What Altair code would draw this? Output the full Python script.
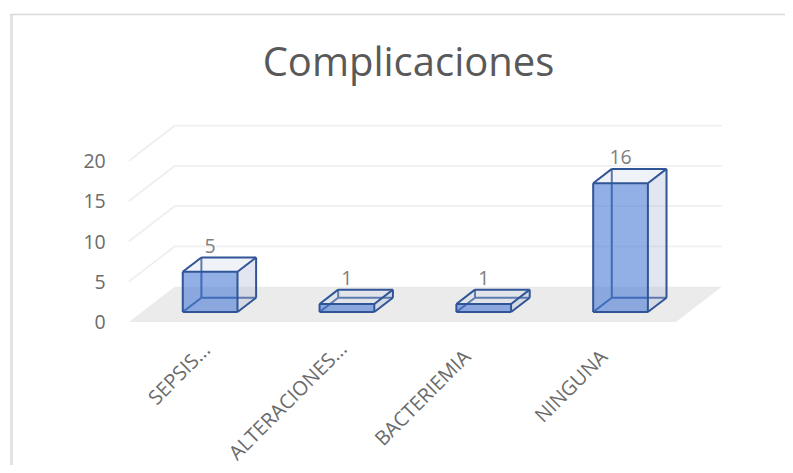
import altair as alt
import pandas as pd

TITLE = "Complicaciones"
categories = ["SEPSIS...", "ALTERACIONES...", "BACTERIEMIA", "NINGUNA"]
values = [5, 1, 1, 16]
ticks = [0, 5, 10, 15, 20]

# projection of the pseudo-3D box (pixels per unit of the scales)
STEP, UNIT = 136.8, 8.05
DEPTH_DX, DEPTH_DY = 46.0, 35.3
ORIGIN_X, ORIGIN_Y = 128.7, 322.0
FRONT, BACK = 0.2833, 0.688
HALF = 0.2
LABEL_SHIFT_PX = [-3, -3, -16, -16]  # end of rotated labels relative to bar centre
LABEL_END_Y = [347, 346, 354, 354]
W, H = 777, 457


def P(u, v, d):
    return u + d * DEPTH_DX / STEP, v + d * DEPTH_DY / UNIT


x_dom = [(8 - ORIGIN_X) / STEP - 0.5, (785 - ORIGIN_X) / STEP - 0.5]
y_dom = [(ORIGIN_Y - 465) / UNIT, (ORIGIN_Y - 8) / UNIT]
xs = alt.Scale(domain=x_dom, nice=False, zero=False)
ys = alt.Scale(domain=y_dom, nice=False, zero=False)
X = alt.X("x:Q", scale=xs, axis=None)
Y = alt.Y("y:Q", scale=ys, axis=None)

# floor
fa = P(-0.5, 0, 0)
fb = P(-0.5, 0, 1)
floor = pd.DataFrame(
    [
        {"y": fa[1], "x": fa[0], "x2": fa[0] + 4},
        {"y": fb[1], "x": fb[0], "x2": fb[0] + 4},
    ]
)
floor_l = (
    alt.Chart(floor)
    .mark_area(orient="horizontal", color="#ebebeb")
    .encode(y=Y, x=X, x2="x2:Q")
)

# gridlines
grid_rows = []
for t in ticks[1:]:
    for o, (u, d) in enumerate([(-0.5, 0), (-0.5, 1), (3.5, 1)]):
        px, py = P(u, t, d)
        grid_rows.append({"t": t, "o": o, "x": px, "y": py})
grid_l = (
    alt.Chart(pd.DataFrame(grid_rows))
    .mark_line(color="#efefef", strokeWidth=1.8)
    .encode(x=X, y=Y, detail="t:N", order="o:Q")
)

side, top, front, back_edges, front_edges = [], [], [], [], []
for i, v in enumerate(values):
    l, r = i - HALF, i + HALF
    for o, d in enumerate([FRONT, BACK]):
        px, py0 = P(r, 0, d)
        _, py1 = P(r, v, d)
        side.append({"b": i, "x": px, "y": py0, "y2": py1})
        xl, yy = P(l, v, d)
        xr, _ = P(r, v, d)
        top.append({"b": i, "x": xl, "x2": xr, "y": yy})
    xl, y0 = P(l, 0, FRONT)
    xr, y1 = P(r, v, FRONT)
    front.append({"b": i, "x": xl, "x2": xr, "y": y0, "y2": y1})

    def edge(store, name, a, b):
        for o, pt in enumerate((a, b)):
            px, py = P(*pt)
            store.append({"e": f"{i}-{name}", "o": o, "x": px, "y": py})

    # hidden / rear edges drawn beneath the translucent faces
    edge(back_edges, "bb", (l, 0, BACK), (r, 0, BACK))
    edge(back_edges, "bl", (l, 0, BACK), (l, v, BACK))
    edge(back_edges, "bf", (l, 0, FRONT), (l, 0, BACK))
    # visible edges
    edge(front_edges, "ft", (l, v, FRONT), (r, v, FRONT))
    edge(front_edges, "fb", (l, 0, FRONT), (r, 0, FRONT))
    edge(front_edges, "fl", (l, 0, FRONT), (l, v, FRONT))
    edge(front_edges, "fr", (r, 0, FRONT), (r, v, FRONT))
    edge(front_edges, "bt", (l, v, BACK), (r, v, BACK))
    edge(front_edges, "br", (r, 0, BACK), (r, v, BACK))
    edge(front_edges, "tl", (l, v, FRONT), (l, v, BACK))
    edge(front_edges, "tr", (r, v, FRONT), (r, v, BACK))
    edge(front_edges, "rb", (r, 0, FRONT), (r, 0, BACK))

EDGE = "#2F5597"
back_l = (
    alt.Chart(pd.DataFrame(back_edges))
    .mark_line(color=EDGE, strokeWidth=2)
    .encode(x=X, y=Y, detail="e:N", order="o:Q")
)
top_l = (
    alt.Chart(pd.DataFrame(top))
    .mark_area(orient="horizontal", color="#CBD3E6", opacity=0.3)
    .encode(y=Y, x=X, x2="x2:Q", detail="b:N")
)
side_l = (
    alt.Chart(pd.DataFrame(side))
    .mark_area(orient="vertical", color="#AEBBD8", opacity=0.36)
    .encode(x=X, y=Y, y2="y2:Q", detail="b:N")
)
front_l = (
    alt.Chart(pd.DataFrame(front))
    .mark_rect(color="#4A7BD4", opacity=0.6)
    .encode(x=X, x2="x2:Q", y=Y, y2="y2:Q")
)
edge_l = (
    alt.Chart(pd.DataFrame(front_edges))
    .mark_line(color=EDGE, strokeWidth=2)
    .encode(x=X, y=Y, detail="e:N", order="o:Q")
)

# data labels
dl = pd.DataFrame(
    [
        {"x": i + FRONT * DEPTH_DX / STEP, "y": P(0, v, BACK)[1], "t": str(v)}
        for i, v in enumerate(values)
    ]
)
dl_l = (
    alt.Chart(dl)
    .mark_text(font="Open Sans", fontSize=19.5, color="#7F7F7F", baseline="middle", dy=-10.5)
    .encode(x=X, y=Y, text="t:N")
)

# value axis labels
tl = pd.DataFrame([{"x": -0.5, "y": t, "t": str(t)} for t in ticks])
tl_l = (
    alt.Chart(tl)
    .mark_text(font="Open Sans", fontSize=19.5, color="#6B6B6B", align="right", baseline="middle", dx=-23, dy=1)
    .encode(x=X, y=Y, text="t:N")
)

# category labels
cl = pd.DataFrame(
    [
        {
            "x": i + FRONT * DEPTH_DX / STEP + LABEL_SHIFT_PX[i] / STEP,
            "y": (ORIGIN_Y - LABEL_END_Y[i]) / UNIT,
            "t": c,
        }
        for i, c in enumerate(categories)
    ]
)
cl_l = (
    alt.Chart(cl)
    .mark_text(font="Open Sans", fontSize=20, color="#6B6B6B", align="right", baseline="middle", angle=315)
    .encode(x=X, y=Y, text="t:N")
)

# chart frame
frame_left = alt.Chart(pd.DataFrame({"a": [0]})).mark_rule(color="#E3E3E3", strokeWidth=3).encode(
    x=alt.value(3.5), y=alt.value(6), y2=alt.value(H)
)
frame_top = alt.Chart(pd.DataFrame({"a": [0]})).mark_rule(color="#D9D9D9", strokeWidth=1.5).encode(
    y=alt.value(6.5), x=alt.value(2), x2=alt.value(W)
)

chart = (
    alt.layer(
        frame_left, frame_top, floor_l, grid_l, back_l, side_l, top_l, front_l, edge_l, dl_l, tl_l, cl_l
    )
    .properties(
        width=W,
        height=H,
        padding=0,
        autosize=alt.AutoSizeParams(type="none"),
        background="white",
        title=alt.TitleParams(
            TITLE, font="Open Sans", fontSize=40, fontWeight="normal", color="#595959",
            anchor="middle", offset=-76, dx=12,
        ),
    )
    .configure_view(stroke=None)
)
chart.save("out.html", embed_options={"renderer": "svg", "actions": False})
